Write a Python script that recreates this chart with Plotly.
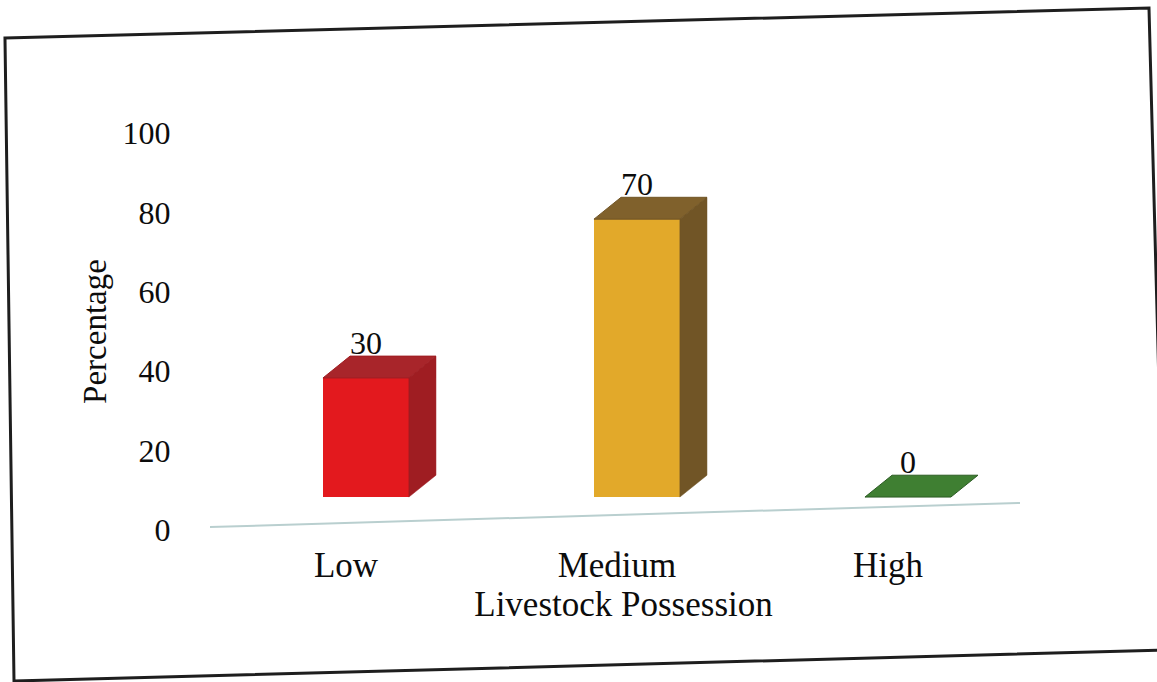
import plotly.graph_objects as go

# ---- data ----
categories = ["Low", "Medium", "High"]
percentages = [30, 70, 0]
y_ticks = [0, 20, 40, 60, 80, 100]

# ---- styling ----
front_colors = ["#e3191e", "#e2a92a", "#3c7c30"]
side_colors = ["#9f1d22", "#715526", "#2c5c24"]
top_colors = ["#a8252a", "#80612c", "#3f7f32"]
FONT = "Liberation Serif, Times New Roman, serif"
INK = "#0c0c0c"

W, H = 1157, 682
L, R, T, B = 190, 100, 133, 152
PW, PH = W - L - R, H - T - B

BAR_W = 0.317      # front face width (category units)
BAR_OFF = -0.085   # front face offset from the category position
DX, DY = 0.10, 5.5  # 3-D depth offset (x units, value units)

xs = list(range(len(categories)))
x0 = (L - 346) / 271
x1 = (W - R - 346) / 271


def px(x):
    return (x - L) / PW


def py(y):
    return (H - B - y) / PH


fig = go.Figure()

# floor edge, drawn on the value axis so the tick scale is shown
fl_x = [x0 + (x1 - x0) * px(210), x0 + (x1 - x0) * px(1020)]
fl_y = [100 * py(527), 100 * py(503)]
fig.add_trace(go.Scatter(
    x=fl_x, y=fl_y, mode="lines", line=dict(color="#b9cfcf", width=2),
    hoverinfo="skip", showlegend=False,
))

# front faces
fig.add_trace(go.Bar(
    x=xs, y=percentages, width=BAR_W, offset=BAR_OFF,
    marker=dict(color=front_colors, line=dict(width=0)),
    yaxis="y2", hoverinfo="skip", showlegend=False,
))

# side and top faces derived from each value
for i, v in enumerate(percentages):
    xl = xs[i] + BAR_OFF
    xr = xl + BAR_W
    if v > 0:
        fig.add_trace(go.Scatter(
            x=[xr, xr + DX, xr + DX, xr, xr],
            y=[0, DY, v + DY, v, 0],
            fill="toself", fillcolor=side_colors[i], mode="lines",
            line=dict(width=0.5, color=side_colors[i]),
            yaxis="y2", hoverinfo="skip", showlegend=False,
        ))
    fig.add_trace(go.Scatter(
        x=[xl, xr, xr + DX, xl + DX, xl],
        y=[v, v, v + DY, v + DY, v],
        fill="toself", fillcolor=top_colors[i], mode="lines",
        line=dict(width=1, color=side_colors[i]),
        yaxis="y2", hoverinfo="skip", showlegend=False,
    ))
    fig.add_annotation(
        x=xl + BAR_W / 2, y=v + DY, xref="x", yref="y2",
        text=str(v), showarrow=False, yanchor="bottom", yshift=-7,
        font=dict(family=FONT, size=32, color=INK),
    )

# outer frame
frame = [(5, 38), (1149, 8), (1166, 650), (14, 681)]
path = "M " + " L ".join(f"{px(a):.4f},{py(b):.4f}" for a, b in frame) + " Z"
fig.add_shape(type="path", path=path, xref="paper", yref="paper",
              line=dict(color="#1e1e1e", width=3), layer="below")

fig.update_layout(
    width=W, height=H,
    margin=dict(l=L, r=R, t=T, b=B, autoexpand=False),
    paper_bgcolor="white", plot_bgcolor="white",
    font=dict(family=FONT, color=INK),
    xaxis=dict(
        range=[x0, x1], tickvals=xs, ticktext=categories,
        showgrid=False, zeroline=False, showline=False,
        ticks="outside", ticklen=4, tickcolor="rgba(0,0,0,0)",
        tickfont=dict(family=FONT, size=35, color=INK),
        title=dict(text="Livestock Possession", standoff=4,
                   font=dict(family=FONT, size=35, color=INK)),
    ),
    yaxis=dict(
        range=[0, 100], tickvals=y_ticks,
        showgrid=False, zeroline=False, showline=False,
        ticks="outside", ticklen=12, tickcolor="rgba(0,0,0,0)",
        tickfont=dict(family=FONT, size=32, color=INK),
        title=dict(text="Percentage", standoff=6,
                   font=dict(family=FONT, size=33, color=INK)),
    ),
    yaxis2=dict(range=[-8.3, 91.7], overlaying="y", visible=False),
    bargap=0,
)

fig.write_html("out.html")
